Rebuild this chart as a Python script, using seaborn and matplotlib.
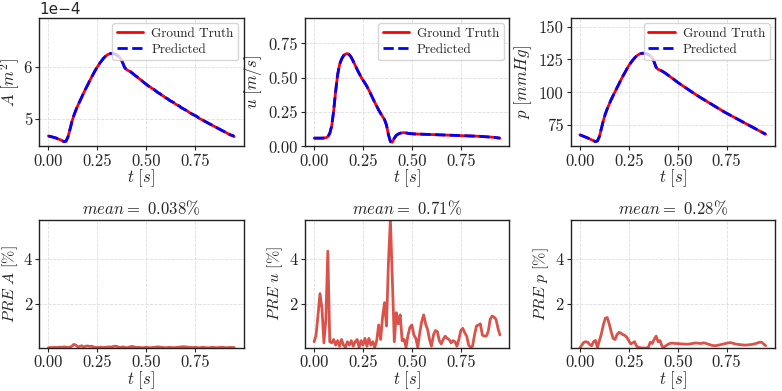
import numpy as np
import seaborn as sns
import matplotlib.pyplot as plt

# time axis (s), sampled every 0.01 s
t = np.round(np.arange(96) * 0.01, 2)

# cross-sectional area (x1e-4 m^2)
area = [4.68, 4.67, 4.66, 4.65, 4.64, 4.62, 4.61, 4.59, 4.57, 4.58,
        4.66, 4.80, 4.95, 5.07, 5.17, 5.26, 5.34, 5.42, 5.50, 5.58,
        5.65, 5.73, 5.80, 5.87, 5.94, 6.00, 6.06, 6.11, 6.16, 6.20,
        6.23, 6.25, 6.26, 6.26, 6.25, 6.23, 6.20, 6.16, 6.08, 5.99,
        5.95, 5.93, 5.91, 5.88, 5.85, 5.82, 5.79, 5.76, 5.73, 5.70,
        5.67, 5.64, 5.62, 5.59, 5.57, 5.54, 5.51, 5.49, 5.46, 5.44,
        5.41, 5.39, 5.36, 5.34, 5.32, 5.29, 5.27, 5.25, 5.22, 5.20,
        5.18, 5.16, 5.13, 5.11, 5.09, 5.07, 5.05, 5.02, 5.00, 4.98,
        4.96, 4.94, 4.92, 4.90, 4.88, 4.86, 4.84, 4.82, 4.80, 4.78,
        4.76, 4.74, 4.72, 4.70, 4.69, 4.67]

# velocity (m/s)
velocity = [0.060, 0.060, 0.060, 0.060, 0.060, 0.061, 0.063, 0.070, 0.095, 0.150,
            0.260, 0.400, 0.520, 0.595, 0.635, 0.660, 0.672, 0.676, 0.668, 0.648,
            0.620, 0.590, 0.560, 0.532, 0.505, 0.482, 0.460, 0.437, 0.410, 0.380,
            0.350, 0.320, 0.293, 0.265, 0.240, 0.218, 0.195, 0.155, 0.085, 0.035,
            0.030, 0.060, 0.080, 0.090, 0.096, 0.099, 0.100, 0.098, 0.095, 0.093,
            0.092, 0.091, 0.090, 0.090, 0.089, 0.089, 0.088, 0.088, 0.087, 0.087,
            0.086, 0.086, 0.085, 0.085, 0.084, 0.084, 0.083, 0.083, 0.082, 0.082,
            0.081, 0.081, 0.080, 0.080, 0.079, 0.078, 0.078, 0.077, 0.077, 0.076,
            0.076, 0.075, 0.075, 0.074, 0.074, 0.073, 0.072, 0.071, 0.070, 0.069,
            0.068, 0.067, 0.066, 0.064, 0.062, 0.060]

# pressure (mmHg)
pressure = [67.8, 67.2, 66.6, 66.0, 65.4, 64.7, 64.0, 63.3, 62.6, 63.2,
            66.5, 72.5, 78.5, 83.5, 87.5, 91.0, 94.5, 97.5, 100.5, 103.5,
            106.5, 109.5, 112.3, 115.0, 117.7, 120.2, 122.4, 124.4, 126.2, 127.6,
            128.7, 129.4, 129.7, 129.7, 129.4, 128.8, 127.8, 126.3, 123.0, 119.0,
            117.5, 116.9, 116.2, 115.3, 114.3, 113.2, 112.1, 111.0, 109.9, 108.8,
            107.7, 106.6, 105.6, 104.6, 103.6, 102.6, 101.6, 100.6, 99.6, 98.6,
            97.6, 96.7, 95.8, 94.9, 94.0, 93.1, 92.2, 91.3, 90.4, 89.5,
            88.6, 87.7, 86.8, 85.9, 85.0, 84.2, 83.4, 82.6, 81.8, 81.0,
            80.2, 79.4, 78.6, 77.8, 77.0, 76.2, 75.4, 74.6, 73.8, 73.0,
            72.2, 71.4, 70.6, 69.8, 69.0, 68.2]

# point-wise relative errors (%)
err_area = [0.03, 0.04, 0.04, 0.05, 0.04, 0.05, 0.06, 0.05, 0.07, 0.06,
            0.04, 0.06, 0.10, 0.18, 0.15, 0.07, 0.09, 0.12, 0.06, 0.10,
            0.11, 0.09, 0.10, 0.07, 0.05, 0.04, 0.05, 0.06, 0.04, 0.05,
            0.06, 0.07, 0.06, 0.08, 0.10, 0.09, 0.05, 0.04, 0.07, 0.05,
            0.03, 0.05, 0.08, 0.09, 0.06, 0.04, 0.05, 0.04, 0.03, 0.04,
            0.05, 0.04, 0.03, 0.04, 0.05, 0.06, 0.07, 0.06, 0.05, 0.04,
            0.03, 0.04, 0.05, 0.04, 0.03, 0.04, 0.05, 0.06, 0.07, 0.08,
            0.07, 0.06, 0.05, 0.04, 0.04, 0.05, 0.04, 0.03, 0.04, 0.05,
            0.04, 0.03, 0.03, 0.04, 0.05, 0.04, 0.03, 0.04, 0.05, 0.05,
            0.04, 0.03, 0.04, 0.05, 0.04, 0.04]

err_velocity = [0.30, 0.60, 1.50, 2.45, 1.80, 0.25, 1.30, 4.35, 0.30, 0.25,
                0.40, 0.15, 0.35, 0.10, 0.40, 0.15, 0.05, 0.30, 0.15, 0.35,
                0.10, 0.30, 0.40, 0.05, 0.35, 0.15, 0.45, 0.10, 0.45, 0.15,
                0.30, 0.05, 0.35, 1.05, 0.40, 1.40, 2.05, 1.00, 3.85, 5.76,
                3.05, 0.30, 1.60, 1.10, 1.50, 0.35, 0.40, 0.05, 0.60, 0.95,
                1.05, 0.60, 0.45, 0.05, 0.70, 1.20, 1.50, 1.10, 0.85, 0.40,
                0.10, 0.60, 0.80, 0.75, 0.35, 0.20, 0.40, 0.55, 0.45, 0.40,
                0.25, 0.35, 0.30, 0.10, 0.40, 0.80, 0.90, 0.70, 0.55, 0.15,
                0.05, 0.10, 0.60, 1.00, 1.05, 1.10, 0.60, 0.55, 0.55, 0.75,
                1.30, 1.45, 1.40, 1.30, 0.90, 0.60]

err_pressure = [0.02, 0.15, 0.27, 0.30, 0.28, 0.18, 0.12, 0.30, 0.36, 0.05,
                0.35, 0.65, 1.05, 1.35, 1.38, 1.10, 0.75, 0.45, 0.40, 0.62,
                0.72, 0.68, 0.62, 0.58, 0.50, 0.35, 0.20, 0.25, 0.30, 0.10,
                0.05, 0.03, 0.02, 0.02, 0.02, 0.05, 0.28, 0.22, 0.40, 0.55,
                0.30, 0.35, 0.10, 0.05, 0.12, 0.18, 0.22, 0.24, 0.23, 0.22,
                0.22, 0.21, 0.20, 0.20, 0.19, 0.19, 0.20, 0.21, 0.23, 0.24,
                0.24, 0.23, 0.22, 0.25, 0.24, 0.21, 0.18, 0.15, 0.13, 0.12,
                0.13, 0.15, 0.17, 0.19, 0.21, 0.23, 0.25, 0.26, 0.24, 0.21,
                0.19, 0.18, 0.17, 0.16, 0.15, 0.15, 0.16, 0.17, 0.18, 0.20,
                0.22, 0.25, 0.28, 0.27, 0.20, 0.12]

top_labels = [r'$A\ [m^2]$', r'$u\ [m/s]$', r'$p\ [mmHg]$']
err_labels = [r'$PRE\ A\ [\%]$', r'$PRE\ u\ [\%]$', r'$PRE\ p\ [\%]$']
mean_texts = ['0.038%', '0.71%', '0.28%']
top_ticks = [[5e-4, 6e-4], [0.0, 0.25, 0.5, 0.75], [75, 100, 125, 150]]

sns.set_style('ticks')
plt.rcParams['font.family'] = 'serif'
plt.rcParams['font.serif'] = ['cmr10']
plt.rcParams['mathtext.fontset'] = 'cm'
plt.rcParams['axes.unicode_minus'] = True

fig, axes = plt.subplots(2, 3, figsize=(7.82, 3.91), dpi=100)
fig.subplots_adjust(left=0.05, right=0.991, top=0.954, bottom=0.11,
                    wspace=0.30, hspace=0.57)

top_series = [np.array(area) * 1e-4, np.array(velocity), np.array(pressure)]
top_limits = [(4.48e-4, 6.94e-4), (0.0, 0.935), (59, 156.5)]
err_series = [err_area, err_velocity, err_pressure]

for i in range(3):
    ax = axes[0, i]
    sns.lineplot(x=t, y=top_series[i], ax=ax, color='red', linewidth=2,
                 label='Ground Truth')
    sns.lineplot(x=t, y=top_series[i], ax=ax, color='blue', linewidth=2,
                 linestyle='--', label='Predicted')
    ax.set_ylim(*top_limits[i])
    ax.set_yticks(top_ticks[i])
    ax.set_xlabel(r'$t\ [s]$', fontsize=12, labelpad=-1)
    ax.set_ylabel(top_labels[i], fontsize=12, labelpad=1 if i == 0 else 3)
    ax.legend(loc='upper right', fontsize=9.5, frameon=True, fancybox=True,
              handlelength=2.0, borderpad=0.35, labelspacing=0.25,
              handletextpad=0.6, borderaxespad=0.4)

    ax2 = axes[1, i]
    sns.lineplot(x=t, y=err_series[i], ax=ax2, color='#d9534a', linewidth=2)
    ax2.set_ylim(0.02, 5.76)
    ax2.set_yticks([2, 4])
    ax2.set_xlabel(r'$t\ [s]$', fontsize=12, labelpad=-1)
    ax2.set_ylabel(err_labels[i], fontsize=11.5, labelpad=3)
    ax2.set_title(r'$mean=$ ' + mean_texts[i], fontsize=12, pad=4)

axes[0, 1].yaxis.set_major_formatter(plt.FormatStrFormatter('%.2f'))
axes[0, 0].ticklabel_format(axis='y', style='sci', scilimits=(0, 0))

for ax in axes.flat:
    ax.set_xticks([0.0, 0.25, 0.5, 0.75])
    ax.xaxis.set_major_formatter(plt.FormatStrFormatter('%.2f'))
    ax.tick_params(labelsize=12, length=3, width=0.8, pad=2)
    ax.grid(True, linestyle='--', linewidth=0.6, color='#dddddd')
    for s in ax.spines.values():
        s.set_color('#222222')
        s.set_linewidth(1.0)

axes[0, 0].yaxis.get_offset_text().set_family('DejaVu Sans')
axes[0, 0].yaxis.get_offset_text().set_fontsize(11)

fig.savefig('out.png', dpi=100)
